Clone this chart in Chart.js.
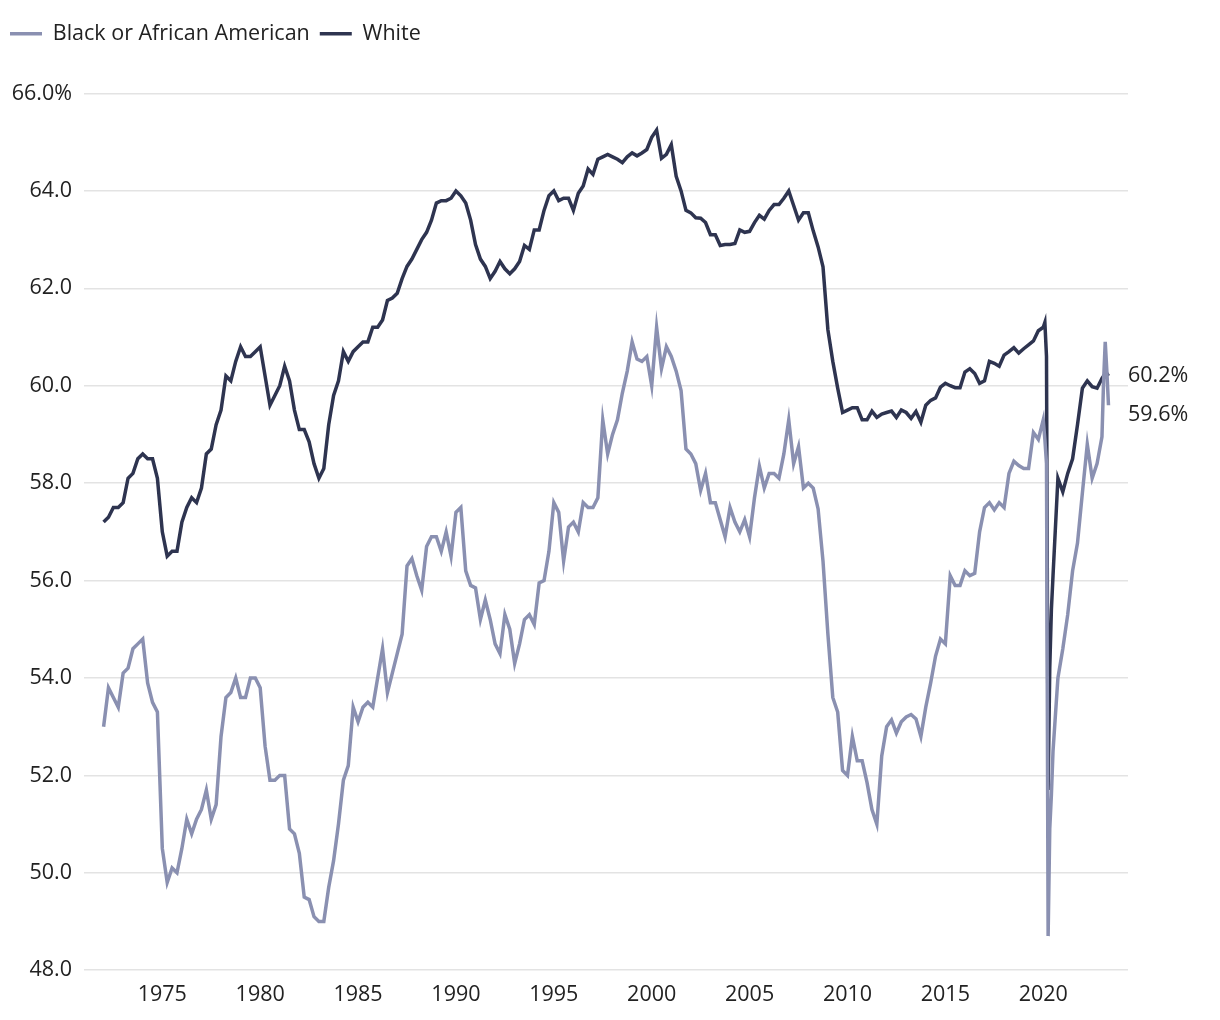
<!DOCTYPE html>
<html>
<head>
<meta charset="utf-8">
<script src="https://cdn.jsdelivr.net/npm/chart.js"></script>
<style>
  html, body { margin: 0; padding: 0; background: #fff; }
  #wrap { width: 1220px; height: 1020px; }
</style>
</head>
<body>
<div id="wrap"><canvas id="chart"></canvas></div>
<script>
// Employment-population ratio, quarterly readings (monthly around 2020 and 2023)
const dates = [
  '1972-01','1972-04','1972-07','1972-10', '1973-01','1973-04','1973-07','1973-10',
  '1974-01','1974-04','1974-07','1974-10', '1975-01','1975-04','1975-07','1975-10',
  '1976-01','1976-04','1976-07','1976-10', '1977-01','1977-04','1977-07','1977-10',
  '1978-01','1978-04','1978-07','1978-10', '1979-01','1979-04','1979-07','1979-10',
  '1980-01','1980-04','1980-07','1980-10', '1981-01','1981-04','1981-07','1981-10',
  '1982-01','1982-04','1982-07','1982-10', '1983-01','1983-04','1983-07','1983-10',
  '1984-01','1984-04','1984-07','1984-10', '1985-01','1985-04','1985-07','1985-10',
  '1986-01','1986-04','1986-07','1986-10', '1987-01','1987-04','1987-07','1987-10',
  '1988-01','1988-04','1988-07','1988-10', '1989-01','1989-04','1989-07','1989-10',
  '1990-01','1990-04','1990-07','1990-10', '1991-01','1991-04','1991-07','1991-10',
  '1992-01','1992-04','1992-07','1992-10', '1993-01','1993-04','1993-07','1993-10',
  '1994-01','1994-04','1994-07','1994-10', '1995-01','1995-04','1995-07','1995-10',
  '1996-01','1996-04','1996-07','1996-10', '1997-01','1997-04','1997-07','1997-10',
  '1998-01','1998-04','1998-07','1998-10', '1999-01','1999-04','1999-07','1999-10',
  '2000-01','2000-04','2000-07','2000-10', '2001-01','2001-04','2001-07','2001-10',
  '2002-01','2002-04','2002-07','2002-10', '2003-01','2003-04','2003-07','2003-10',
  '2004-01','2004-04','2004-07','2004-10', '2005-01','2005-04','2005-07','2005-10',
  '2006-01','2006-04','2006-07','2006-10', '2007-01','2007-04','2007-07','2007-10',
  '2008-01','2008-04','2008-07','2008-10', '2009-01','2009-04','2009-07','2009-10',
  '2010-01','2010-04','2010-07','2010-10', '2011-01','2011-04','2011-07','2011-10',
  '2012-01','2012-04','2012-07','2012-10', '2013-01','2013-04','2013-07','2013-10',
  '2014-01','2014-04','2014-07','2014-10', '2015-01','2015-04','2015-07','2015-10',
  '2016-01','2016-04','2016-07','2016-10', '2017-01','2017-04','2017-07','2017-10',
  '2018-01','2018-04','2018-07','2018-10', '2019-01','2019-04','2019-07','2019-10',
  '2020-01','2020-02','2020-03','2020-04','2020-05','2020-06','2020-07','2020-10',
  '2021-01','2021-04','2021-07','2021-10', '2022-01','2022-04','2022-07','2022-10',
  '2023-01','2023-02','2023-03','2023-04','2023-05'
];

const black = [
  53.0, 53.8, 53.6, 53.4,  54.1, 54.2, 54.6, 54.7,
  54.8, 53.9, 53.5, 53.3,  50.5, 49.8, 50.1, 50.0,
  50.5, 51.1, 50.8, 51.1,  51.3, 51.7, 51.1, 51.4,
  52.8, 53.6, 53.7, 54.0,  53.6, 53.6, 54.0, 54.0,
  53.8, 52.6, 51.9, 51.9,  52.0, 52.0, 50.9, 50.8,
  50.4, 49.5, 49.45, 49.1, 49.0, 49.0, 49.7, 50.25,
  51.0, 51.9, 52.2, 53.4,  53.1, 53.4, 53.5, 53.4,
  54.0, 54.6, 53.7, 54.1,  54.5, 54.9, 56.3, 56.45,
  56.1, 55.8, 56.7, 56.9,  56.9, 56.6, 57.0, 56.5,
  57.4, 57.5, 56.2, 55.9,  55.85, 55.2, 55.6, 55.2,
  54.7, 54.5, 55.3, 55.0,  54.3, 54.7, 55.2, 55.3,
  55.1, 55.95, 56.0, 56.6, 57.6, 57.4, 56.4, 57.1,
  57.2, 57.0, 57.6, 57.5,  57.5, 57.7, 59.3, 58.6,
  59.0, 59.3, 59.85, 60.3, 60.9, 60.55, 60.5, 60.6,
  60.0, 61.2, 60.35, 60.8, 60.6, 60.3, 59.9, 58.7,
  58.6, 58.4, 57.85, 58.2, 57.6, 57.6, 57.25, 56.9,
  57.5, 57.2, 57.0, 57.25, 56.9, 57.7, 58.35, 57.9,
  58.2, 58.2, 58.1, 58.6,  59.3, 58.4, 58.75, 57.9,
  58.0, 57.9, 57.47, 56.4, 54.9, 53.6, 53.3, 52.1,
  52.0, 52.8, 52.3, 52.3,  51.85, 51.3, 51.0, 52.4,
  53.0, 53.14, 52.87, 53.1, 53.2, 53.25, 53.16, 52.8,
  53.4, 53.9, 54.45, 54.8, 54.7, 56.1, 55.9, 55.9,
  56.2, 56.1, 56.15, 57.0, 57.5, 57.6, 57.45, 57.6,
  57.5, 58.2, 58.45, 58.36, 58.3, 58.3, 59.04, 58.9,
  59.3, 58.9, 58.4, 48.7, 50.9, 51.6, 52.5, 54.0,
  54.6, 55.3, 56.2, 56.77, 57.8, 58.8, 58.1, 58.4,
  58.95, 60.1, 60.9, 60.3, 59.6
];

const white = [
  57.2, 57.3, 57.5, 57.5,  57.6, 58.1, 58.2, 58.5,
  58.6, 58.5, 58.5, 58.1,  57.0, 56.5, 56.6, 56.6,
  57.2, 57.5, 57.7, 57.6,  57.9, 58.6, 58.7, 59.2,
  59.5, 60.2, 60.1, 60.5,  60.8, 60.6, 60.6, 60.7,
  60.8, 60.2, 59.6, 59.8,  60.0, 60.4, 60.1, 59.5,
  59.1, 59.1, 58.85, 58.4, 58.1, 58.3, 59.2, 59.8,
  60.1, 60.7, 60.5, 60.7,  60.8, 60.9, 60.9, 61.2,
  61.2, 61.35, 61.75, 61.8, 61.9, 62.2, 62.45, 62.6,
  62.8, 63.0, 63.15, 63.4, 63.75, 63.8, 63.8, 63.85,
  64.0, 63.9, 63.75, 63.4, 62.9, 62.6, 62.45, 62.2,
  62.35, 62.55, 62.4, 62.3, 62.4, 62.55, 62.88, 62.8,
  63.2, 63.2, 63.6, 63.9,  64.0, 63.8, 63.85, 63.85,
  63.6, 63.95, 64.1, 64.45, 64.34, 64.65, 64.7, 64.75,
  64.7, 64.65, 64.58, 64.7, 64.78, 64.72, 64.78, 64.85,
  65.1, 65.25, 64.67, 64.75, 64.95, 64.3, 64.0, 63.6,
  63.55, 63.45, 63.44, 63.35, 63.1, 63.1, 62.88, 62.9,
  62.9, 62.92, 63.2, 63.15, 63.17, 63.35, 63.5, 63.42,
  63.6, 63.72, 63.72, 63.85, 64.0, 63.7, 63.4, 63.55,
  63.55, 63.18, 62.85, 62.44, 61.15, 60.5, 59.95, 59.45,
  59.5, 59.55, 59.55, 59.3, 59.3, 59.48, 59.35, 59.42,
  59.45, 59.48, 59.35, 59.5, 59.45, 59.33, 59.47, 59.25,
  59.6, 59.7, 59.75, 59.97, 60.05, 60.0, 59.96, 59.96,
  60.28, 60.35, 60.25, 60.05, 60.1, 60.5, 60.46, 60.4,
  60.63, 60.7, 60.78, 60.67, 60.76, 60.84, 60.92, 61.13,
  61.2, 61.3, 60.6, 51.7, 54.2, 55.4, 56.1, 58.1,
  57.82, 58.2, 58.5, 59.2, 59.95, 60.1, 59.98, 59.95,
  60.15, 60.2, 60.25, 60.25, 60.2
];

const seriesNames = ['Black or African American', 'White'];
const seriesColors = ['#8a90b1', '#2e3450'];
const xTicks = [1975, 1980, 1985, 1990, 1995, 2000, 2005, 2010, 2015, 2020];
const yTicks = [48, 50, 52, 54, 56, 58, 60, 62, 64, 66];
const yTickLabels = ['48.0', '50.0', '52.0', '54.0', '56.0', '58.0', '60.0', '62.0', '64.0', '66.0%'];

const FONT = '"Open Sans", "Noto Sans", sans-serif';
const FONT_SIZE = 21.5;
Chart.defaults.font.family = FONT;
Chart.defaults.font.size = FONT_SIZE;
Chart.defaults.color = '#222';

function toYear(s) {
  return +s.slice(0, 4) + (+s.slice(5, 7) - 1) / 12;
}

function points(values) {
  return values.map((v, i) => ({ x: toYear(dates[i]), y: v }));
}

// push the legend away from the plot
const legendGap = {
  id: 'legendGap',
  beforeInit(chart) {
    const fit = chart.legend.fit;
    chart.legend.fit = function () {
      fit.bind(chart.legend)();
      this.height += 39;
    };
  }
};

// value labels at the end of each line
const endLabels = {
  id: 'endLabels',
  afterDatasetsDraw(chart) {
    const { ctx, chartArea, scales } = chart;
    const items = chart.data.datasets.map(ds => {
      const last = ds.data[ds.data.length - 1];
      return { text: last.y.toFixed(1) + '%', y: scales.y.getPixelForValue(last.y) };
    }).sort((a, b) => a.y - b.y);
    for (let i = 1; i < items.length; i++) {
      if (items[i].y - items[i - 1].y < 39) items[i].y = items[i - 1].y + 39;
    }
    ctx.save();
    ctx.font = FONT_SIZE + 'px ' + FONT;
    ctx.fillStyle = '#222';
    ctx.textAlign = 'left';
    ctx.textBaseline = 'middle';
    items.forEach(it => ctx.fillText(it.text, chartArea.right, it.y));
    ctx.restore();
  }
};

new Chart(document.getElementById('chart'), {
  type: 'line',
  data: {
    datasets: [black, white].map((vals, i) => ({
      label: seriesNames[i],
      data: points(vals),
      borderColor: seriesColors[i],
      backgroundColor: seriesColors[i],
      borderWidth: 3.5,
      pointRadius: 0,
      tension: 0
    }))
  },
  options: {
    responsive: true,
    maintainAspectRatio: false,
    animation: false,
    layout: { padding: { top: 13, left: 0, right: 92, bottom: 0 } },
    plugins: {
      legend: {
        position: 'top',
        align: 'start',
        labels: {
          usePointStyle: true,
          pointStyle: 'line',
          pointStyleWidth: 32,
          boxHeight: 20,
          padding: 10,
          color: '#222'
        }
      },
      tooltip: { enabled: false }
    },
    scales: {
      x: {
        type: 'linear',
        min: 1971,
        max: 2024.33,
        grid: { display: false, drawTicks: false },
        border: { display: false },
        afterBuildTicks: s => { s.ticks = xTicks.map(v => ({ value: v })); },
        ticks: { padding: 12, color: '#222', callback: v => String(v), maxRotation: 0 }
      },
      y: {
        min: 48,
        max: 66,
        afterBuildTicks: s => { s.ticks = yTicks.map(v => ({ value: v })); },
        afterFit: s => { s.width = 84; },
        grid: { color: '#e3e3e3', lineWidth: 1.5, drawTicks: false },
        border: { display: false },
        ticks: {
          padding: 12,
          color: '#222',
          callback: v => yTickLabels[yTicks.indexOf(v)]
        }
      }
    }
  },
  plugins: [legendGap, endLabels]
});
</script>
</body>
</html>
